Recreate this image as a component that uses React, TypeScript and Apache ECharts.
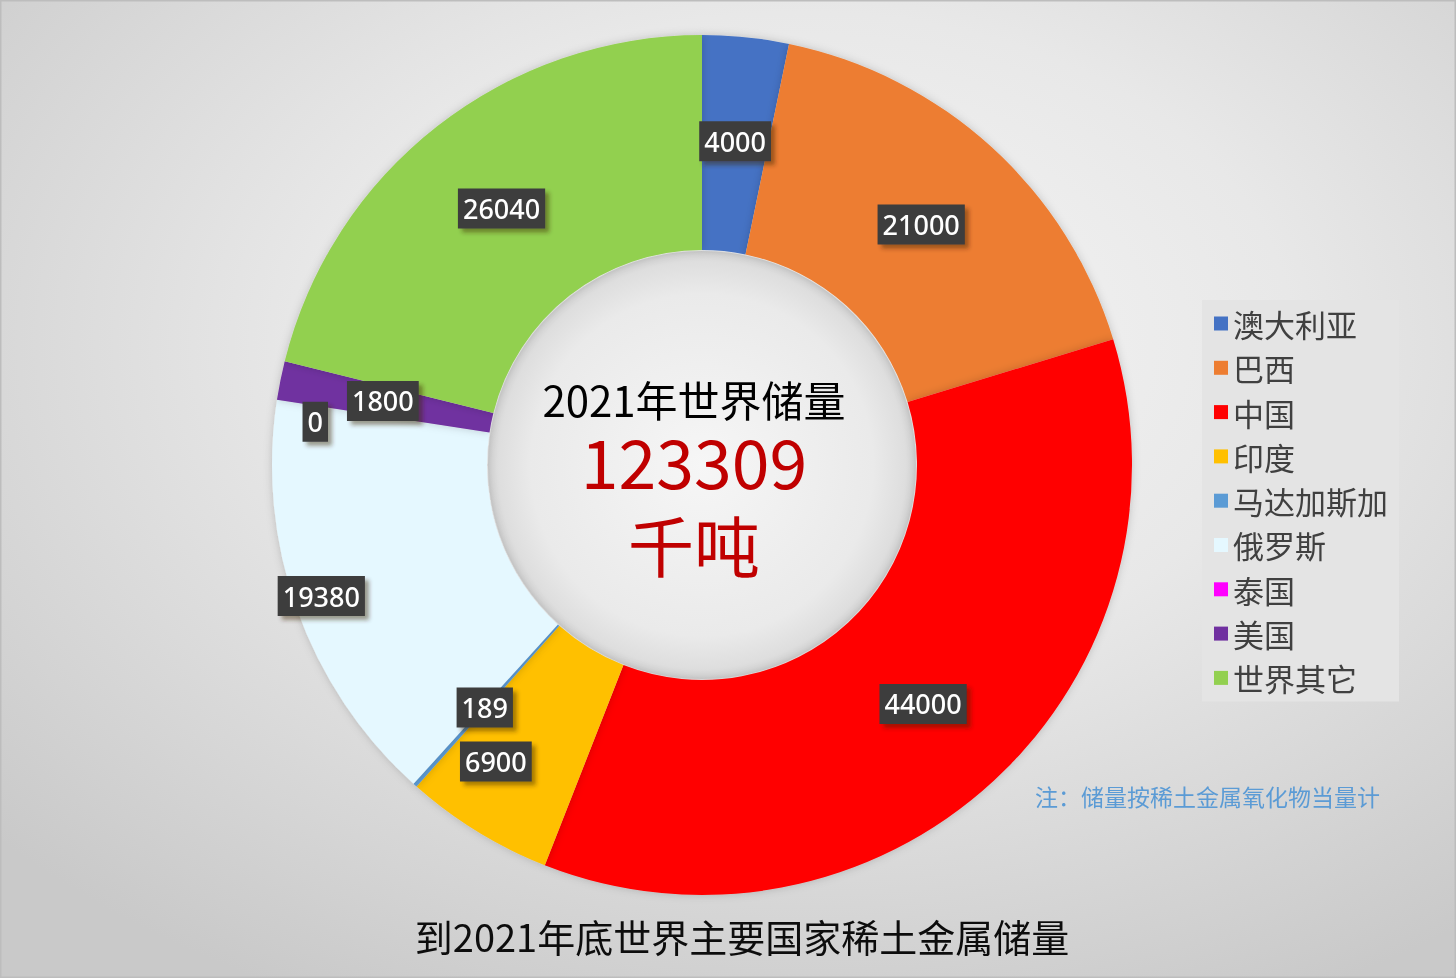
import React, { useEffect, useRef } from "react";
import * as echarts from "echarts";

const countries = ["澳大利亚", "巴西", "中国", "印度", "马达加斯加", "俄罗斯", "泰国", "美国", "世界其它"];
const reserves = [4000, 21000, 44000, 6900, 189, 19380, 0, 1800, 26040];
const colors = ["#4472C4", "#ED7D31", "#FF0000", "#FFC000", "#5B9BD5", "#E5F8FF", "#FF00FF", "#7030A0", "#92D050"];
const centerLine1 = "2021年世界储量";
const centerTotal = "123309";
const centerUnit = "千吨";
const chartTitle = "到2021年底世界主要国家稀土金属储量";
const footnote = "注：储量按稀土金属氧化物当量计";
// label nudges (to avoid overlaps, as in the reference)
const labelNudge: Record<string, [number, number]> = { 泰国: [-65, 6], 印度: [-36, 19], 俄罗斯: [-74, 22] };

export default function App() {
  const ref = useRef<HTMLDivElement>(null);
  useEffect(() => {
    document.body.style.margin = "0";
    const chart = echarts.init(ref.current!, null, { renderer: "svg" });
    const cx = 702, cy = 465;
    chart.setOption({
      animation: false,
      graphic: [
        {
          type: "rect",
          z: 0,
          shape: { x: 0, y: 0, width: 1456, height: 978 },
          style: {
            fill: new echarts.graphic.RadialGradient(0.55, 0.35, 0.75, [
              { offset: 0, color: "#F6F6F6" },
              { offset: 0.45, color: "#E8E8E8" },
              { offset: 1, color: "#C9C9C9" },
            ]),
            stroke: "#BDBDBD",
            lineWidth: 3,
          },
        },
        {
          type: "circle",
          z: 1,
          shape: { cx, cy, r: 214 },
          style: {
            fill: new echarts.graphic.RadialGradient(0.5, 0.5, 0.5, [
              { offset: 0, color: "#F6F6F6" },
              { offset: 0.8, color: "#EAEAEA" },
              { offset: 0.95, color: "#DEDEDE" },
              { offset: 1, color: "#D2D2D2" },
            ]),
          },
        },
        {
          type: "text",
          z: 100,
          style: {
            x: cx - 8, y: 398, text: centerLine1, textAlign: "center", textVerticalAlign: "middle",
            fontSize: 42, lineHeight: 42, fill: "#000000", fontFamily: "Noto Sans CJK SC",
          },
        },
        {
          type: "text",
          z: 100,
          style: {
            x: cx - 8, y: 459, text: centerTotal, textAlign: "center", textVerticalAlign: "middle",
            fontSize: 68, lineHeight: 68, fill: "#C00000", fontFamily: "Noto Sans CJK SC",
          },
        },
        {
          type: "text",
          z: 100,
          style: {
            x: cx - 8, y: 543, text: centerUnit, textAlign: "center", textVerticalAlign: "middle",
            fontSize: 66, lineHeight: 66, fill: "#C00000", fontFamily: "Noto Sans CJK SC",
          },
        },
        {
          type: "text",
          z: 100,
          style: {
            x: 742, y: 935, text: chartTitle, textAlign: "center", textVerticalAlign: "middle",
            fontSize: 38, fill: "#0D0D0D", fontFamily: "Noto Sans CJK SC",
          },
        },
        {
          type: "text",
          z: 100,
          style: {
            x: 1035, y: 796, text: footnote, textAlign: "left", textVerticalAlign: "middle",
            fontSize: 23, fill: "#5B9BD5", fontFamily: "Noto Sans CJK SC",
          },
        },
      ],
      legend: {
        orient: "vertical",
        left: 1202,
        top: 300,
        padding: [8, 11, 8, 12],
        backgroundColor: "#E4E4E4",
        itemWidth: 14,
        itemHeight: 14,
        itemGap: 13.3,
        icon: "rect",
        data: countries,
        textStyle: { fontSize: 31, color: "#404040", fontFamily: "Noto Sans CJK SC", padding: [0, 0, 0, 0] },
      },
      series: [
        {
          type: "pie",
          center: [cx, cy],
          radius: [215, 430],
          startAngle: 90,
          clockwise: true,
          avoidLabelOverlap: false,
          silent: true,
          itemStyle: { borderWidth: 0, shadowBlur: 8, shadowColor: "rgba(0,0,0,0.18)" },
          label: {
            show: true,
            position: "inside",
            formatter: "{c}",
            color: "#FFFFFF",
            fontSize: 27,
            fontWeight: 500,
            fontFamily: "Noto Sans",
            backgroundColor: "#3C3C3C",
            padding: [7, 5, 6, 5],
            shadowColor: "rgba(60,40,0,0.45)",
            shadowBlur: 4,
            shadowOffsetX: 4,
            shadowOffsetY: 4,
          },
          labelLine: { show: false },
          labelLayout: (params: any) => {
            const n = countries[params.dataIndex];
            const d = labelNudge[n];
            return d ? { dx: d[0], dy: d[1] } : {};
          },
          data: countries.map((name, i) => ({
            name,
            value: reserves[i],
            itemStyle: { color: colors[i] },
          })),
        },
      ],
    });
    return () => chart.dispose();
  }, []);
  return <div ref={ref} style={{ position: "fixed", left: 0, top: 0, width: 1456, height: 978 }} />;
}
